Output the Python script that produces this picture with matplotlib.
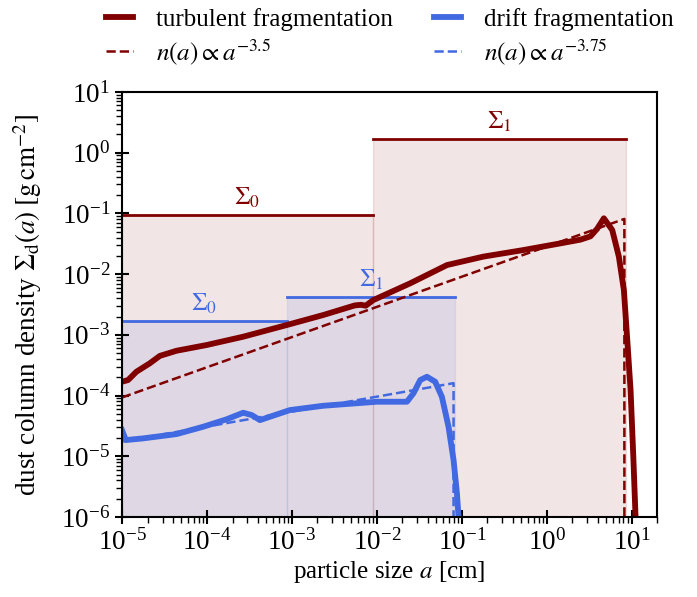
import numpy as np
import matplotlib
matplotlib.use("Agg")
from matplotlib import pyplot as plt
from matplotlib.ticker import LogLocator, NullFormatter

plt.rcParams['font.family'] = ['Liberation Serif', 'DejaVu Serif']
plt.rcParams['mathtext.fontset'] = 'stix'

RED = '#800000'
BLUE = '#4169E1'

# turbulent fragmentation: simulated size distribution
turb_a = [1.0e-5, 1.18e-5, 1.48e-5, 2.12e-5, 2.79e-5, 4.39e-5, 9.9e-5, 2.67e-4, 8.7e-4,
          2.34e-3, 5.5e-3, 6.5e-3, 7.4e-3, 9.1e-3, 2.47e-2, 6.7e-2, 0.179, 0.531, 1.45, 2.49,
          3.27, 3.93, 4.70, 5.90, 7.06, 8.09, 8.87, 9.70, 10.45, 11.1, 11.4]
turb_sig = [1.69e-4, 1.80e-4, 2.47e-4, 3.39e-4, 4.50e-4, 5.47e-4, 6.79e-4, 9.31e-4, 1.45e-3,
            2.12e-3, 3.05e-3, 3.12e-3, 3.02e-3, 3.74e-3, 7.05e-3, 1.41e-2, 1.94e-2, 2.49e-2,
            3.21e-2, 3.69e-2, 4.19e-2, 5.6e-2, 8.30e-2, 5.33e-2, 1.94e-2, 5.47e-3, 8.20e-4,
            1.23e-4, 9.8e-6, 1.0e-6, 4.2e-7]

# drift fragmentation
drift_a = [1.0e-5, 1.11e-5, 1.77e-5, 4.39e-5, 9.0e-5, 1.70e-4, 2.67e-4, 3.36e-4, 4.21e-4,
           5.52e-4, 9.5e-4, 2.34e-3, 1.0e-2, 2.26e-2, 2.70e-2, 3.24e-2, 3.89e-2, 4.86e-2,
           5.83e-2, 6.98e-2, 8.0e-2, 8.77e-2, 9.16e-2, 9.33e-2]
drift_sig = [2.70e-5, 1.85e-5, 1.97e-5, 2.32e-5, 3.06e-5, 4.06e-5, 5.21e-5, 4.78e-5, 3.94e-5,
             4.48e-5, 5.77e-5, 6.79e-5, 7.91e-5, 7.91e-5, 1.09e-4, 1.80e-4, 2.04e-4, 1.69e-4,
             9.55e-5, 3.06e-5, 8.65e-6, 2.45e-6, 1.0e-6, 5e-7]

# power law fits (end points, then drop at a_max)
pl_turb_a = [1.0e-5, 8.2, 8.2]
pl_turb_sig = [9.3e-5, 8.1e-2, 1e-7]
pl_drift_a = [1.0e-5, 8.0e-2, 8.0e-2]
pl_drift_sig = [1.75e-5, 1.6e-4, 1e-7]

# two-bin representation: bin edges and Sigma per bin
turb_edges = [1.0e-5, 9.0e-3, 8.5]
turb_bins = [9.4e-2, 1.68]
drift_edges = [1.0e-5, 8.7e-4, 8.4e-2]
drift_bins = [1.7e-3, 4.2e-3]
bin_labels = [r'$\Sigma_0$', r'$\Sigma_1$']

fig = plt.figure(figsize=(6.97, 5.97), dpi=100)
ax = fig.add_axes([0.175, 0.134, 0.768, 0.712])

for edges, levels, col in [(turb_edges, turb_bins, RED), (drift_edges, drift_bins, BLUE)]:
    for i in range(2):
        lo, hi = edges[i], edges[i + 1]
        ax.fill_between([lo, hi], [levels[i]] * 2, [1e-7] * 2, color=col, alpha=0.1)
        ax.plot([lo, hi], [levels[i]] * 2, color=col, lw=2.0)
        ax.text(np.sqrt(lo * hi), levels[i] * 1.2, bin_labels[i], color=col,
                ha='center', va='bottom', fontsize=18)

l1, = ax.plot(turb_a, turb_sig, color=RED, lw=4.2, label='turbulent fragmentation',
              solid_joinstyle='round')
l3, = ax.plot(drift_a, drift_sig, color=BLUE, lw=4.2, label='drift fragmentation',
              solid_joinstyle='round')
l2, = ax.plot(pl_turb_a, pl_turb_sig, color=RED, lw=1.8, ls='--', label=r'$n(a) \propto a^{-3.5}$')
l4, = ax.plot(pl_drift_a, pl_drift_sig, color=BLUE, lw=1.8, ls='--', label=r'$n(a) \propto a^{-3.75}$')

ax.set_xscale('log')
ax.set_yscale('log')
ax.set_xlim(1e-5, 2e1)
ax.set_ylim(1e-6, 1e1)

for axis in [ax.xaxis, ax.yaxis]:
    axis.set_major_locator(LogLocator(base=10, numticks=20))
    axis.set_minor_locator(LogLocator(base=10, subs=np.arange(2, 10), numticks=100))
    axis.set_minor_formatter(NullFormatter())

ax.tick_params(which='major', direction='inout', length=10, width=1.5, labelsize=19.5)
ax.tick_params(which='minor', direction='out', length=4, width=1.0)
for s in ax.spines.values():
    s.set_linewidth(1.5)

ax.set_xlabel(r'particle size $a$ [cm]', fontsize=18, labelpad=3)
ax.set_ylabel(r'dust column density $\Sigma_\mathrm{d}(a)\;[\mathrm{g\,cm}^{-2}]$', fontsize=19.5,
              labelpad=12)

ax.legend(handles=[l1, l2, l3, l4], ncol=2, loc='lower center', bbox_to_anchor=(0.5, 1.036),
          frameon=False, fontsize=18, handlelength=1.1, handletextpad=0.9, columnspacing=1.65,
          borderaxespad=0.0, labelspacing=0.25)

fig.savefig('out.png', dpi=100)
